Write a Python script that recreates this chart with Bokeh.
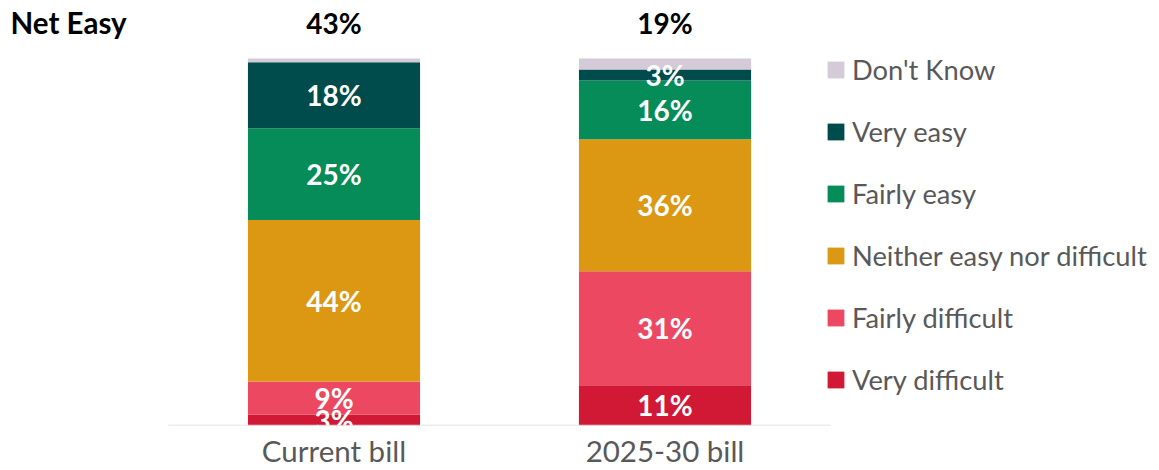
from bokeh.plotting import figure
from bokeh.models import ColumnDataSource, Range1d, Legend, LegendItem, FixedTicker
from bokeh.embed import file_html
from bokeh.resources import INLINE
from bokeh.core.properties import value

# ---- data ----
categories = ["Current bill", "2025-30 bill"]
very_difficult = [3, 11]
fairly_difficult = [9, 31]
neither = [44, 36]
fairly_easy = [25, 16]
very_easy = [18, 3]
dont_know = [1, 3]
series_keys = ["very_difficult", "fairly_difficult", "neither", "fairly_easy", "very_easy", "dont_know"]
series_names = ["Very difficult", "Fairly difficult", "Neither easy nor difficult",
                "Fairly easy", "Very easy", "Don't Know"]
colors = ["#d11834", "#ec4862", "#dc9813", "#068c58", "#004b4b", "#d5cbd8"]
net_title = "Net Easy"

FONT = "Lato"
W, H = 1159, 470
LEFT = 168        # px of the first category slot's left edge
SLOT = 331        # px per category slot
BASE_PX = 425     # px of y = 0
TOP_PX = 58       # px of y = 100

xpos = [i + 0.5 for i in range(len(categories))]
px_per_unit = (BASE_PX - TOP_PX) / 100.0

data = dict(x=xpos, cat=categories, very_difficult=very_difficult, fairly_difficult=fairly_difficult,
            neither=neither, fairly_easy=fairly_easy, very_easy=very_easy, dont_know=dont_know)
source = ColumnDataSource(data)

p = figure(width=W, height=H,
           x_range=Range1d(-LEFT / SLOT, (W - LEFT) / SLOT),
           y_range=Range1d(0, BASE_PX / px_per_unit),
           output_backend="svg", toolbar_location=None,
           min_border_left=0, min_border_right=0, min_border_top=0, min_border_bottom=H - BASE_PX)

renderers = p.vbar_stack(series_keys, x="x", width=0.52, color=colors, line_color=None, source=source)

# baseline (category axis line)
p.segment(x0=[0], y0=[0], x1=[len(categories)], y1=[0], line_color="#d9d9d9", line_width=1.5)

# segment labels
lab_x, lab_y, lab_t = [], [], []
for i in range(len(categories)):
    base = 0
    for k in series_keys:
        v = data[k][i]
        if k != "dont_know":
            lab_x.append(xpos[i])
            lab_y.append(base + v / 2)
            lab_t.append(f"{v}%")
        base += v
p.text(x=lab_x, y=lab_y, text=lab_t, text_align="center", text_baseline="middle",
       text_color="white", text_font=value(FONT), text_font_style="bold", text_font_size="28px")

# net easy row
net_y = (BASE_PX - 22) / px_per_unit
net = [f"{a + b}%" for a, b in zip(fairly_easy, very_easy)]
p.text(x=xpos, y=[net_y] * len(xpos), text=net, text_align="center", text_baseline="middle",
       text_color="black", text_font=value(FONT), text_font_style="bold", text_font_size="28px")
p.text(x=[0], y=[net_y], text=[net_title], x_offset=10 - LEFT, text_align="left", text_baseline="middle",
       text_color="black", text_font=value(FONT), text_font_style="bold", text_font_size="29.5px")

# legend
items = [LegendItem(label=n, renderers=[r]) for n, r in zip(series_names, renderers)][::-1]
legend = Legend(items=items, location=(825, 29), glyph_width=21, glyph_height=21, label_height=21,
                spacing=29, padding=0, margin=0, border_line_color=None, background_fill_alpha=0,
                label_text_font=FONT, label_text_font_size="27.3px", label_text_color="#595959",
                label_standoff=6)
p.add_layout(legend)

p.yaxis.visible = False
p.grid.visible = False
p.outline_line_color = None
p.xaxis.ticker = FixedTicker(ticks=xpos)
p.xaxis.major_label_overrides = {x: c for x, c in zip(xpos, categories)}
p.xaxis.axis_line_color = None
p.xaxis.major_tick_line_color = None
p.xaxis.minor_tick_line_color = None
p.xaxis.major_tick_out = 0
p.xaxis.major_tick_in = 0
p.xaxis.major_label_text_font = FONT
p.xaxis.major_label_text_font_size = "29.5px"
p.xaxis.major_label_text_color = "#595959"
p.xaxis.major_label_standoff = 7

open("out.html", "w").write(file_html(p, INLINE))
